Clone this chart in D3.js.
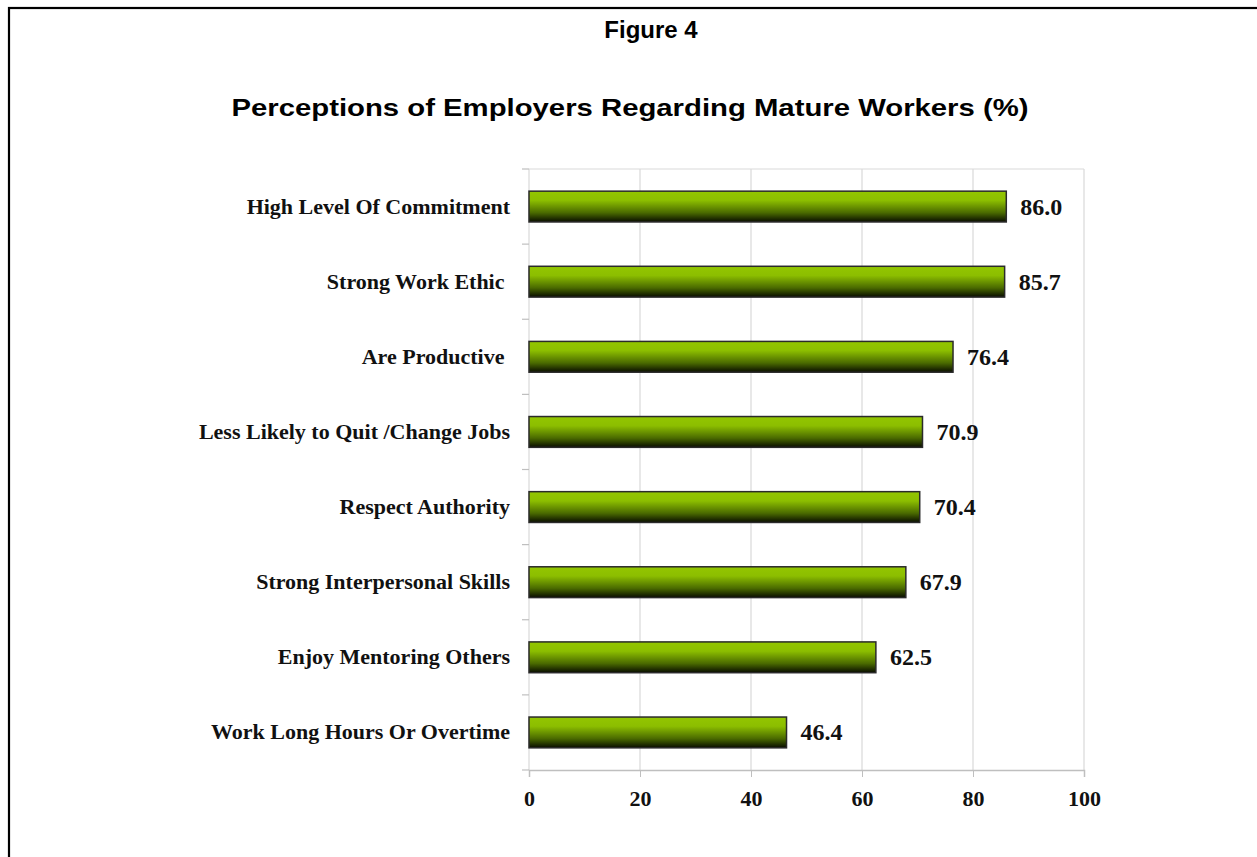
<!DOCTYPE html>
<html>
<head>
    <style>
        body { margin: 0; background: #fff; }
        svg text { white-space: pre; }
    </style>
</head>
<body>
    <script src="https://d3js.org/d3.v7.min.js"></script>
    <script>
        const width = 1257;
        const height = 857;

        // values
        const categories = [
            "High Level Of Commitment",
            "Strong Work Ethic ",
            "Are Productive ",
            "Less Likely to Quit /Change Jobs",
            "Respect Authority",
            "Strong Interpersonal Skills",
            "Enjoy Mentoring Others",
            "Work Long Hours Or Overtime"
        ];
        const values = [86.0, 85.7, 76.4, 70.9, 70.4, 67.9, 62.5, 46.4];
        const xTicks = [0, 20, 40, 60, 80, 100];

        const figLabel = "Figure 4";
        const title = "Perceptions of Employers Regarding Mature Workers (%)";

        const plot = {left: 529, right: 1084, top: 169, bottom: 770};

        const svg = d3.select("body").append("svg")
            .attr("width", width).attr("height", height);

        // gradient for bars
        const grad = svg.append("defs").append("linearGradient")
            .attr("id", "barGrad").attr("x1", 0).attr("y1", 0).attr("x2", 0).attr("y2", 1);
        grad.append("stop").attr("offset", "0%").attr("stop-color", "#93c600");
        grad.append("stop").attr("offset", "30%").attr("stop-color", "#8cbe00");
        grad.append("stop").attr("offset", "70%").attr("stop-color", "#4a6a00");
        grad.append("stop").attr("offset", "100%").attr("stop-color", "#080c00");

        // outer frame (runs off the right and bottom of the picture)
        svg.append("rect")
            .attr("x", 9).attr("y", 8)
            .attr("width", width + 20).attr("height", height + 20)
            .attr("fill", "none").attr("stroke", "#000").attr("stroke-width", 2.2);

        svg.append("text")
            .attr("x", 651).attr("y", 38)
            .attr("text-anchor", "middle")
            .style("font-family", "Liberation Sans, Arial, sans-serif")
            .style("font-weight", "bold").style("font-size", "24px")
            .text(figLabel);

        // the title in the figure is set a little wider than plain Arial
        svg.append("text")
            .attr("x", 630).attr("y", 116)
            .attr("text-anchor", "middle")
            .attr("textLength", 797).attr("lengthAdjust", "spacingAndGlyphs")
            .style("font-family", "Liberation Sans, Arial, sans-serif")
            .style("font-weight", "bold").style("font-size", "24px")
            .text(title);

        const x = d3.scaleLinear().domain([0, 100]).range([plot.left, plot.right]);
        const y = d3.scaleBand().domain(categories).range([plot.top, plot.bottom]).paddingInner(0.59).paddingOuter(0.295);

        // gridlines
        svg.append("g").selectAll("line").data(xTicks).join("line")
            .attr("x1", d => x(d)).attr("x2", d => x(d))
            .attr("y1", plot.top).attr("y2", plot.bottom)
            .attr("stroke", "#d9d9d9").attr("stroke-width", 1.2);

        svg.append("line")
            .attr("x1", plot.left).attr("x2", plot.right)
            .attr("y1", plot.top).attr("y2", plot.top)
            .attr("stroke", "#d9d9d9").attr("stroke-width", 1.2);

        // bottom axis
        const xAxis = svg.append("g")
            .attr("transform", `translate(0,${plot.bottom})`)
            .call(d3.axisBottom(x).tickValues(xTicks).tickSize(7).tickPadding(13).tickFormat(d3.format("d")));
        xAxis.select(".domain").attr("stroke", "#bfbfbf").attr("stroke-width", 1.5);
        xAxis.selectAll(".tick line").attr("stroke", "#bfbfbf");
        xAxis.selectAll(".tick text")
            .attr("fill", "#111")
            .style("font-family", "Liberation Serif, Times New Roman, serif")
            .style("font-weight", "bold").style("font-size", "22px");

        // left tick marks at band boundaries
        const boundaries = d3.range(categories.length + 1).map(i => plot.top + i * (plot.bottom - plot.top) / categories.length);
        svg.append("g").selectAll("line").data(boundaries).join("line")
            .attr("x1", plot.left - 7).attr("x2", plot.left)
            .attr("y1", d => d).attr("y2", d => d)
            .attr("stroke", "#bfbfbf").attr("stroke-width", 1.2);

        // bars
        svg.append("g").selectAll("rect").data(values).join("rect")
            .attr("x", x(0))
            .attr("y", (d, i) => y(categories[i]))
            .attr("width", d => x(d) - x(0))
            .attr("height", y.bandwidth())
            .attr("fill", "url(#barGrad)")
            .attr("stroke", "#2a2a2a").attr("stroke-width", 1.5);

        // category labels
        svg.append("g").selectAll("text").data(categories).join("text")
            .attr("x", 510)
            .attr("y", d => y(d) + y.bandwidth() / 2 + 7)
            .attr("text-anchor", "end")
            .attr("fill", "#111")
            .style("font-family", "Liberation Serif, Times New Roman, serif")
            .style("font-weight", "bold").style("font-size", "22px")
            .text(d => d);

        // value labels
        svg.append("g").selectAll("text").data(values).join("text")
            .attr("x", d => x(d) + 14)
            .attr("y", (d, i) => y(categories[i]) + y.bandwidth() / 2 + 8)
            .attr("fill", "#111")
            .style("font-family", "Liberation Serif, Times New Roman, serif")
            .style("font-weight", "bold").style("font-size", "24px")
            .text(d => d.toFixed(1));
    </script>
</body>
</html>
